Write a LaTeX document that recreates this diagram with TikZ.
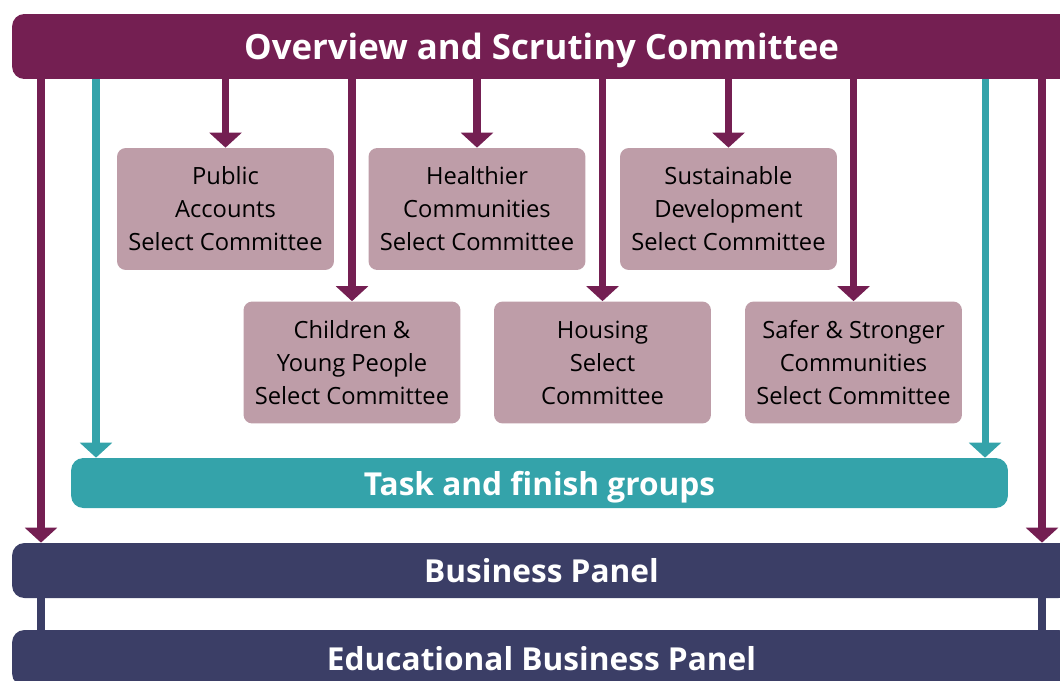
\documentclass[tikz,border=0pt]{standalone}
\usepackage{fontspec}
\setmainfont{Open Sans}
\usepackage{tikz}
\usetikzlibrary{arrows.meta}
\usetikzlibrary{positioning, calc}

\definecolor{ospurple}{RGB}{116,31,82}
\definecolor{osmauve}{RGB}{190,157,168}
\definecolor{osteal}{RGB}{52,163,170}
\definecolor{osnavy}{RGB}{59,62,102}

\begin{document}
\begin{tikzpicture}[x=0.02cm, y=-0.02cm,
    bar/.style={rounded corners=7pt, text=white, font=\bfseries\fontsize{18}{20}\selectfont, inner sep=0pt, text depth=0pt},
    cttee/.style={fill=osmauve, rounded corners=5pt, minimum width=4.34cm, minimum height=2.44cm, inner sep=0pt, align=center, font=\fontsize{13.5}{18.8}\selectfont},
    purparrow/.style={draw=ospurple, line width=4.5pt, -{Triangle[width=18pt, length=8.5pt]}},
    tealarrow/.style={draw=osteal, line width=4pt, -{Triangle[width=18pt, length=8.5pt]}},
    navylink/.style={draw=osnavy, line width=4.5pt}]
  \clip (0,0) rectangle (1060,680);
  \useasboundingbox (0,0) rectangle (1060,680);

  \node[bar, fill=ospurple, minimum width=21.18cm, minimum height=1.3cm, font=\bfseries\fontsize{19.8}{22}\selectfont] (ovsc) at (541.5,46.5) {Overview and Scrutiny Committee};

  \node[cttee] (pac) at (225.5,209) {Public\\Accounts\\Select Committee};
  \node[cttee] (hcc) at (477,209) {Healthier\\Communities\\Select Committee};
  \node[cttee] (sdc) at (728.5,209) {Sustainable\\Development\\Select Committee};
  \node[cttee] (cyp) at (352,362.5) {Children \&\\Young People\\Select Committee};
  \node[cttee] (hsc) at (602.5,362.5) {Housing\\Select\\Committee};
  \node[cttee] (ssc) at (853.5,362.5) {Safer \& Stronger\\Communities\\Select Committee};

  \node[bar, fill=osteal, minimum width=18.74cm, minimum height=1.0cm] (tfg) at (539.5,483) {Task and finish groups};
  \node[bar, fill=osnavy, minimum width=21.18cm, minimum height=1.1cm] (bp) at (541.5,570.5) {Business Panel};
  \node[bar, fill=osnavy, minimum width=21.18cm, minimum height=1.12cm] (ebp) at (541.5,658) {Educational Business Panel};

  \coordinate (pl) at (41,0);
  \coordinate (pr) at (1042,0);
  \coordinate (tl) at (96,0);
  \coordinate (tr) at (985,0);

  \foreach \c in {pac,hcc,sdc,cyp,hsc,ssc}
    \draw[purparrow] (\c.north |- ovsc.south) -- (\c.north);

  \draw[tealarrow] (tl |- ovsc.south) -- (tl |- tfg.north);
  \draw[tealarrow] (tr |- ovsc.south) -- (tr |- tfg.north);
  \draw[purparrow] (pl |- ovsc.south) -- (pl |- bp.north);
  \draw[purparrow] (pr |- ovsc.south) -- (pr |- bp.north);

  \draw[navylink] (pl |- bp.south) -- (pl |- ebp.north);
  \draw[navylink] (pr |- bp.south) -- (pr |- ebp.north);
\end{tikzpicture}
\end{document}
